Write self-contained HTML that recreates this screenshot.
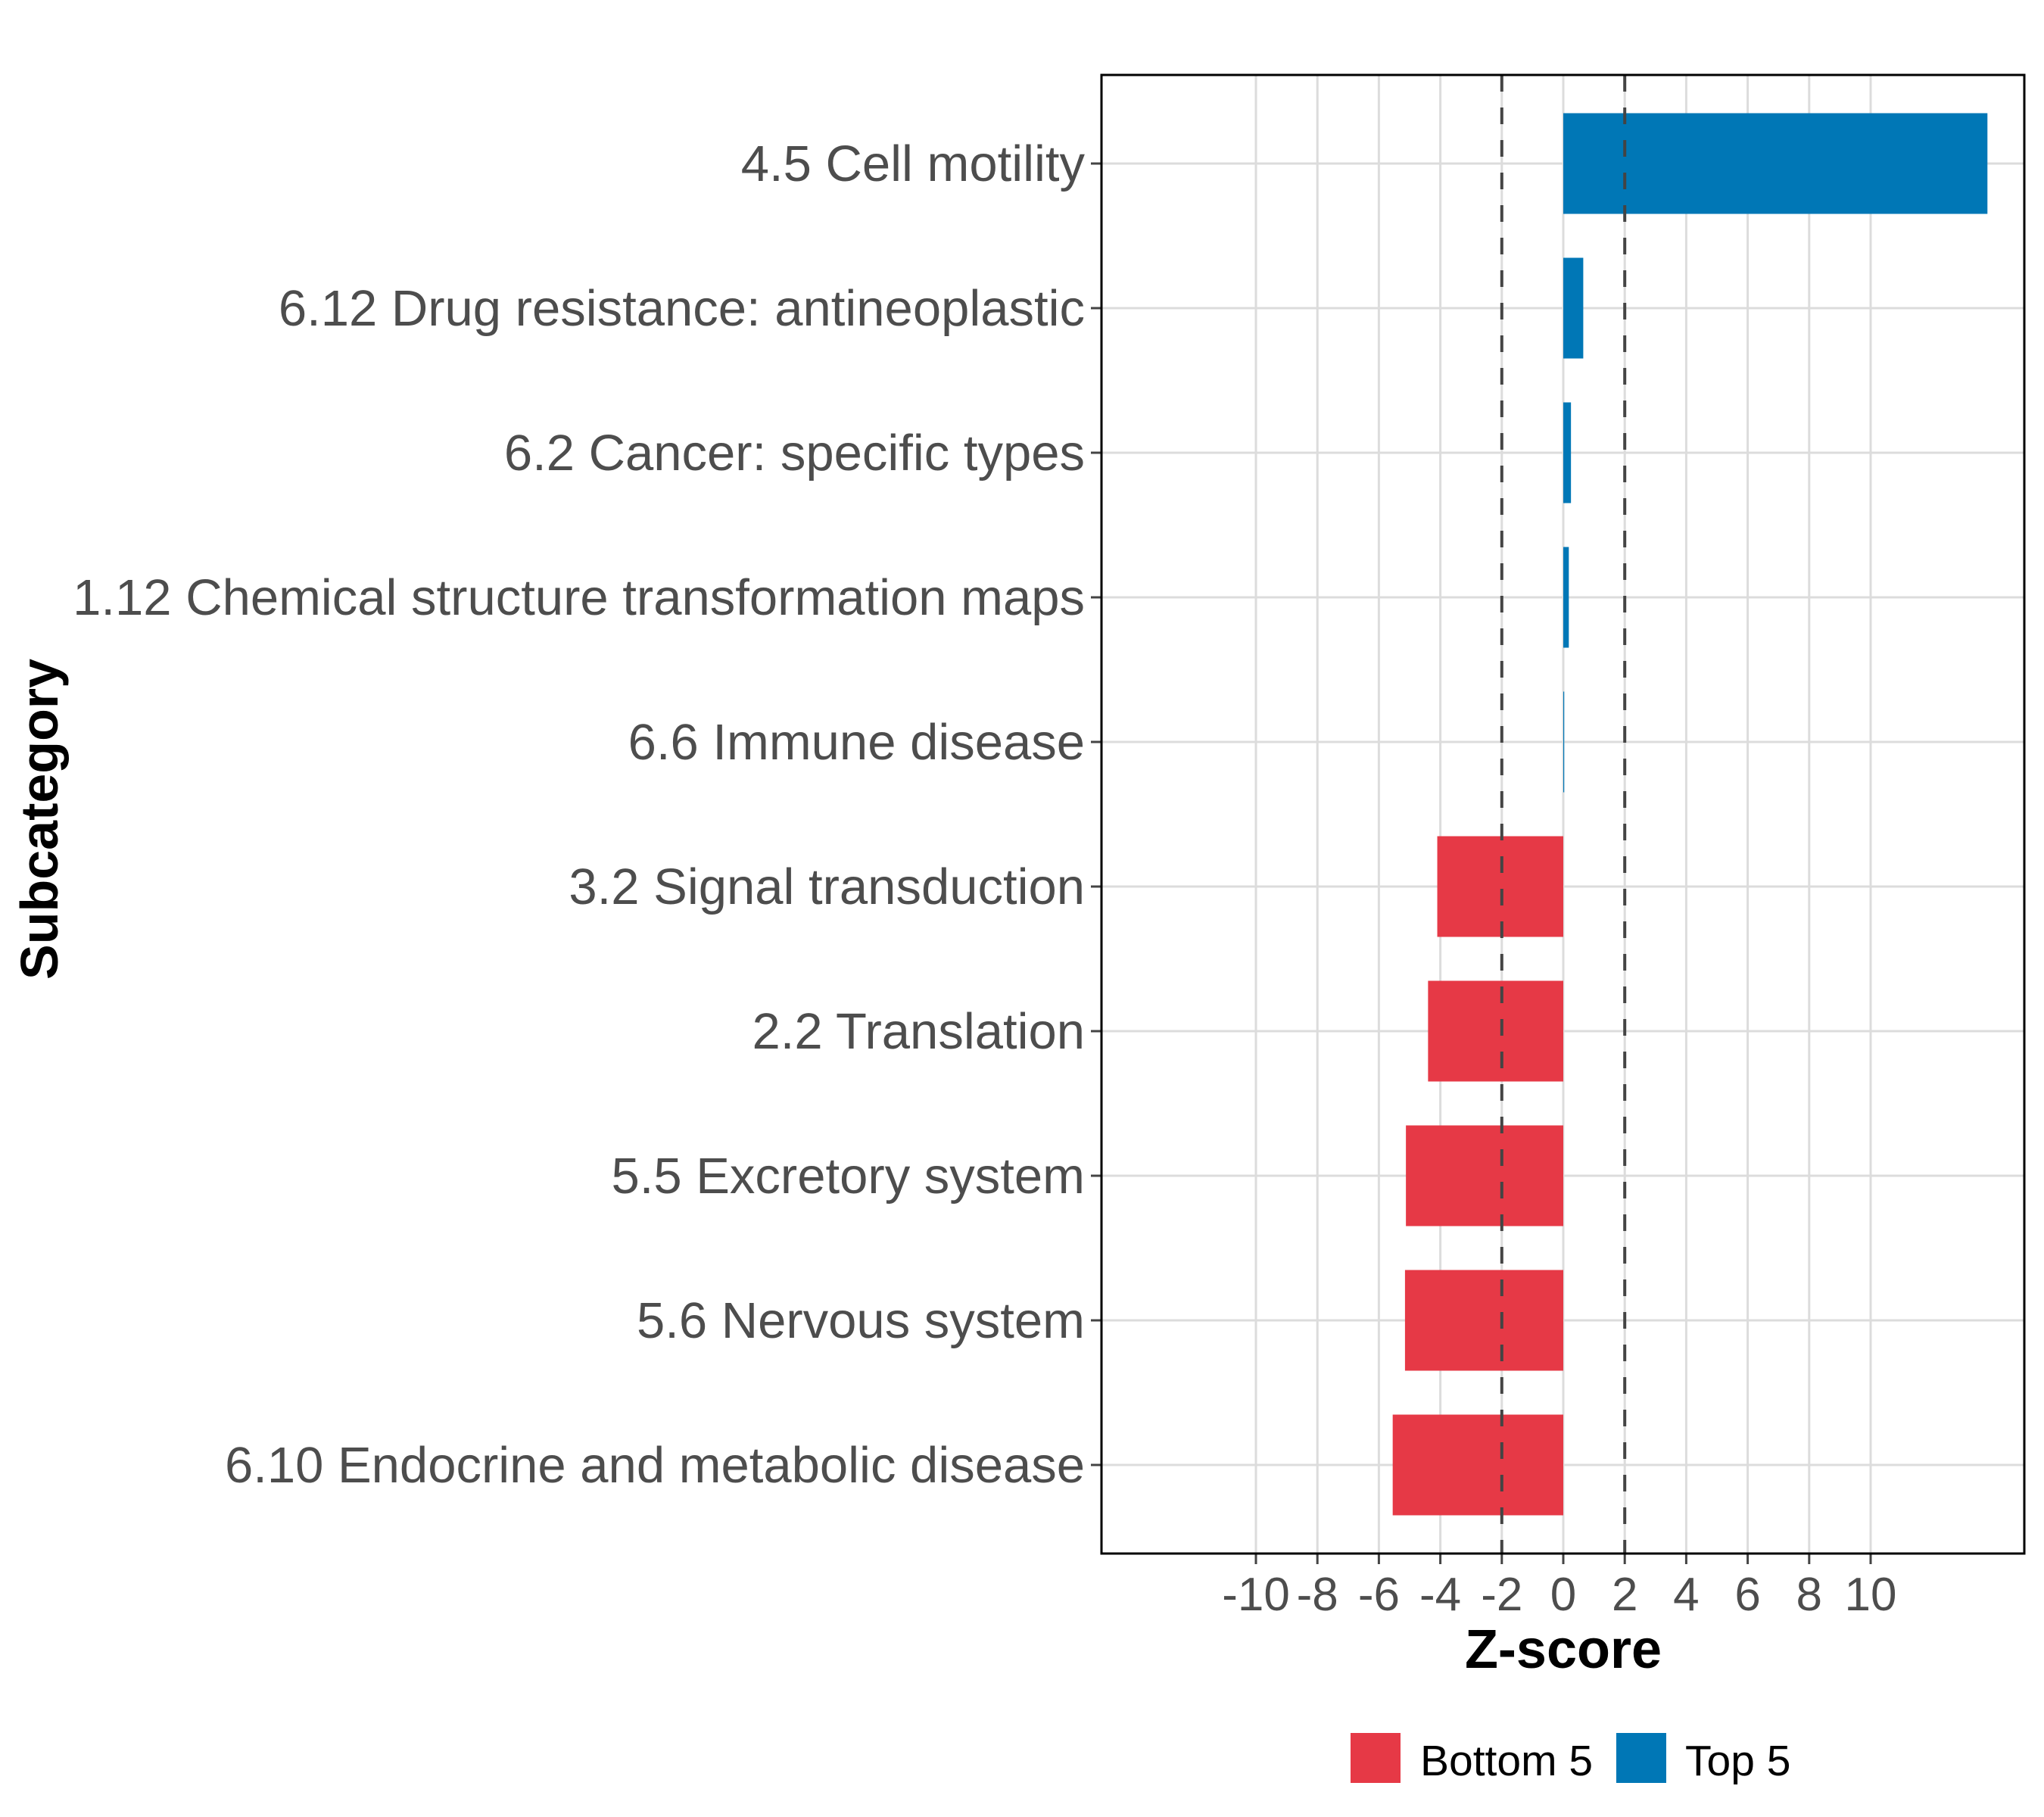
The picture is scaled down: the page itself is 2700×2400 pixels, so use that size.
<!DOCTYPE html>
<html><head><meta charset="utf-8"><style>body{margin:0;background:#fff}svg{display:block}</style></head>
<body>
<svg id="chart" width="2700" height="2400" xmlns="http://www.w3.org/2000/svg" font-family="Liberation Sans, Arial, sans-serif">
<g id="grid"></g>
<g id="bars"></g>
<g id="refs"></g>
<g id="axes"></g>
<text x="2065" y="2203" text-anchor="middle" font-size="72" font-weight="bold">Z-score</text>
<text transform="translate(76,1082) rotate(-90)" text-anchor="middle" font-size="70" font-weight="bold">Subcategory</text>
<g>
<rect x="1784" y="2289" width="66" height="66" fill="#E63946"/>
<text x="1876" y="2345" font-size="57">Bottom 5</text>
<rect x="2135" y="2289" width="66" height="66" fill="#0077B6"/>
<text x="2226" y="2345" font-size="57">Top 5</text>
</g>
</svg>
<script>
const categories = ["4.5 Cell motility","6.12 Drug resistance: antineoplastic","6.2 Cancer: specific types","1.12 Chemical structure transformation maps","6.6 Immune disease","3.2 Signal transduction","2.2 Translation","5.5 Excretory system","5.6 Nervous system","6.10 Endocrine and metabolic disease"];
const values = [13.8, 0.65, 0.25, 0.18, 0.03, -4.1, -4.4, -5.12, -5.15, -5.55];
const groups = ["Top 5","Top 5","Top 5","Top 5","Top 5","Bottom 5","Bottom 5","Bottom 5","Bottom 5","Bottom 5"];
const xTicks = [-10,-8,-6,-4,-2,0,2,4,6,8,10];
const refLines = [-2, 2];

const NS="http://www.w3.org/2000/svg";
const PL=1455, PR=2674, PT=99, PB=2052;
const x = v => 2065 + v*40.6;
const step = 191;
const y = i => 216 + step*i;
const bh = 133;
function mk(tag, attrs, parent, txt){const e=document.createElementNS(NS,tag);for(const k in attrs)e.setAttribute(k,attrs[k]);if(txt!==undefined)e.textContent=txt;parent.appendChild(e);return e;}
const grid=document.getElementById('grid'), bars=document.getElementById('bars'), refs=document.getElementById('refs'), axes=document.getElementById('axes');
xTicks.forEach(t=>{
  const l=mk('line',{x1:x(t),x2:x(t),y1:PT,y2:PB,stroke:'#dcdcdc','stroke-width':3},grid);
  
  
  const tk=mk('line',{x1:x(t),x2:x(t),y1:PB,y2:PB+14,stroke:'#444','stroke-width':3},axes);
  
  
  const tl=mk('text',{x:x(t),y:2127,'text-anchor':'middle','font-size':62,fill:'#4d4d4d'},axes,String(t));
  
  
});
categories.forEach((c,i)=>{
  const l=mk('line',{x1:PL,x2:PR,y1:y(i),y2:y(i),stroke:'#dcdcdc','stroke-width':3},grid);
  
  
  const v=values[i];
  const r=mk('rect',{x:Math.min(x(0),x(v)),y:y(i)-bh/2,width:Math.max(Math.abs(x(v)-x(0)),1),height:bh,fill:groups[i]==='Top 5'?'#0077B6':'#E63946'},bars);
  
  
  const tk=mk('line',{x1:PL-14,x2:PL,y1:y(i),y2:y(i),stroke:'#444','stroke-width':3},axes);
  
  
  const tl=mk('text',{x:PL-22,y:y(i)+23,'text-anchor':'end','font-size':67,fill:'#4d4d4d'},axes,c);
  
  
});
refLines.forEach(v=>{
  const l=mk('line',{x1:x(v),x2:x(v),y1:PT,y2:PB,stroke:'#444','stroke-width':4,'stroke-dasharray':'22 21'},refs);
  
  
});
const b=mk('rect',{x:PL,y:PT,width:PR-PL,height:PB-PT,fill:'none',stroke:'#000','stroke-width':3},axes);


</script>
</body></html>
